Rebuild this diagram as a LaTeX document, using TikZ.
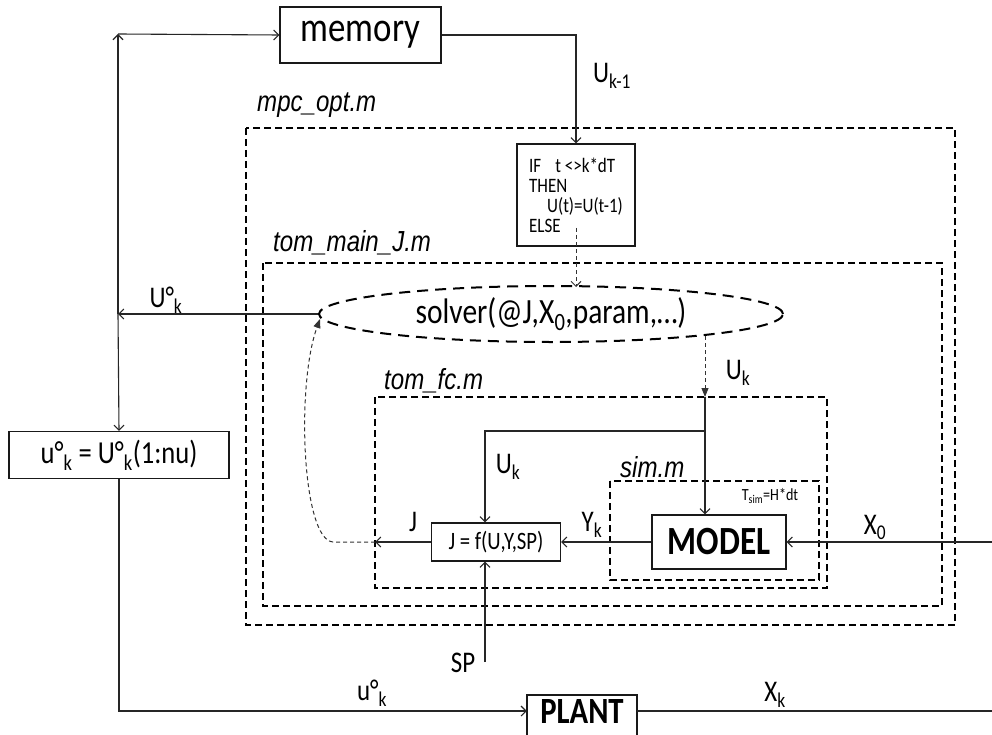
\documentclass[tikz,border=0pt]{standalone}
\usepackage{fontspec}
\setmainfont{Carlito}[FakeStretch=0.83]
\newfontfamily\arialf{Liberation Sans}[FakeStretch=0.83]
\usetikzlibrary{arrows.meta,shapes.geometric,calc}
\tikzset{
  conn/.style={line width=1.1pt, draw=black!85, -{Straight Barb[length=5pt,width=10pt]}},
  plainline/.style={line width=1.1pt, draw=black!85},
  box/.style={draw=black!90, line width=1.2pt, inner sep=0pt},
  dbox/.style={draw=black, line width=1.8pt, dash pattern=on 7pt off 4pt},
  thindash/.style={line width=1pt, draw=black!80, dash pattern=on 4pt off 3pt},
  filetag/.style={font=\arialf\itshape\fontsize{29}{33}\selectfont, anchor=west, inner sep=0pt},
  lbl/.style={font=\fontsize{30}{34}\selectfont, inner sep=0pt},
  tri/.style={-{Triangle[length=9pt,width=7pt]}},
  barb/.style={-{Straight Barb[length=5pt,width=10pt]}}
}
\begin{document}
\begin{tikzpicture}[x=1pt,y=-1pt]
\fill[white] (0,0) rectangle (992,735);
\useasboundingbox (0,0) rectangle (992,735);

% dashed frames
\draw[dbox] (246,128) rectangle (955,625);
\draw[dbox] (263,263) rectangle (942,606);
\draw[dbox] (375,397) rectangle (827,588);
\draw[dbox] (610,481) rectangle (819,580);

\node[filetag] (tmpc) at (257,105) {mpc\_opt.m};
\node[filetag] (tmain) at (273,243) {tom\_main\_J.m};
\node[filetag] (tfc) at (384,381) {tom\_fc.m};
\node[filetag] (tsimm) at (620,467) {sim.m};

% boxes
\node[box, minimum width=161, minimum height=56, font=\fontsize{42}{46}\selectfont] (memory) at (360.5,35) {memory};
\node[box, minimum width=118, minimum height=102, align=left, font=\fontsize{20.5}{20}\selectfont] (cond) at (576,195)
  {IF\hspace{14pt}t <>k*dT\\THEN\\\hspace{18pt}U(t)=U(t-1)\\ELSE};
\node[ellipse, draw=black, line width=2pt, dash pattern=on 11pt off 7pt, minimum width=464, minimum height=56, inner sep=0pt,
  font=\fontsize{35.5}{38}\selectfont] (solver) at (551,314) {solver(@J,X\textsubscript{0},param,…)};
\node[box, minimum width=134, minimum height=54, font=\bfseries\fontsize{40}{44}\selectfont] (model) at (719,542) {MODEL};
\node[box, minimum width=129, minimum height=38, font=\fontsize{25}{28}\selectfont] (jbox) at (496,542) {J = f(U,Y,SP)};
\node[box, minimum width=220, minimum height=47, font=\fontsize{32}{36}\selectfont] (uk) at (119,455) {u°\textsubscript{k} = U°\textsubscript{k}(1:nu)};
\draw[box] (527,695) rectangle (637,765);
\node[minimum width=110, minimum height=28, inner sep=0pt, font=\bfseries\fontsize{37}{40}\selectfont] (plant) at (582,711) {PLANT};
\node[inner sep=0pt, font=\fontsize{17}{18}\selectfont] (tsim) at (770,496) {T\textsubscript{sim}=H*dt};

% connectors
\coordinate (tl) at (118,34);
\coordinate (ukl) at (118,314);
\draw[conn] (ukl) -- (tl);
\draw[conn] (tl) -- (memory.west);
\draw[conn] (ukl) -- (uk.north);
\draw[conn] (solver.west) -- (ukl);
\draw[conn] (memory.east) -| (cond.north);
\coordinate (condout) at (576,228);
\coordinate (solvtop) at (576,287);
\draw[thindash, barb] (condout) -- (solvtop);
\coordinate (solvbot) at (705,336);
\coordinate (fcin) at (705,397);
\draw[thindash, tri] (solvbot) -- (fcin);
\coordinate (ukj) at (705,431);
\draw[plainline] (fcin) -- (ukj);
\draw[conn] (ukj) -- (ukj |- model.north);
\coordinate (spx) at (485,662);
\draw[conn] (ukj) -| (spx |- jbox.north);
\draw[conn] (spx) -- (spx |- jbox.south);
\draw[conn] (model.west) -- (jbox.east);
\coordinate (jend) at (375,542);
\draw[conn] (jbox.west) -- (jend);
\coordinate (solvleft) at (320,319);
\draw[thindash, tri] (jend) -- (333,542) .. controls (302,540) and (296,385) .. (solvleft);
\coordinate (x0in) at (992,542);
\draw[conn] (x0in) -- (model.east);
\draw[conn] (uk.south) |- (plant.west);
\coordinate (xkout) at (992,711);
\draw[plainline] (plant.east) -- (xkout);

% labels
\node[lbl] (lukm1) at (612,76) {U\textsubscript{k-1}};
\node[lbl] (luok) at (166,300) {U°\textsubscript{k}};
\node[lbl] (luk1) at (738,373) {U\textsubscript{k}};
\node[lbl] (luk2) at (508,467) {U\textsubscript{k}};
\node[lbl] (lj) at (413,522) {J};
\node[lbl] (lyk) at (592,525) {Y\textsubscript{k}};
\node[lbl] (lx0) at (875,527) {X\textsubscript{0}};
\node[lbl] (lsp) at (463,663) {SP};
\node[lbl] (luokb) at (372,693) {u°\textsubscript{k}};
\node[lbl] (lxk) at (775,695) {X\textsubscript{k}};
\end{tikzpicture}
\end{document}
